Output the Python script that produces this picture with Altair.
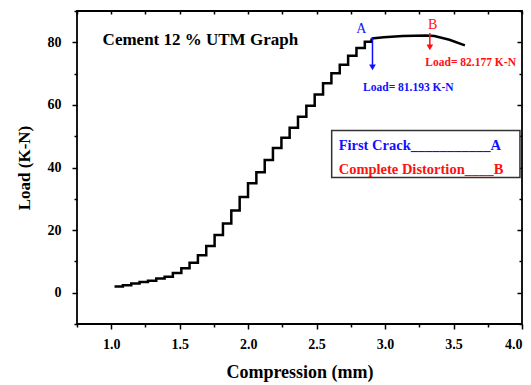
import altair as alt
import pandas as pd

# ---- data ----
step_x = [1.024, 1.085, 1.146, 1.207, 1.268, 1.329, 1.390, 1.450, 1.512, 1.572,
          1.633, 1.694, 1.755, 1.816, 1.877, 1.938, 1.999, 2.060, 2.121, 2.181,
          2.243, 2.303, 2.364, 2.425, 2.486, 2.547, 2.608, 2.669, 2.730, 2.791,
          2.852, 2.901]
step_y = [2.0, 2.4, 2.9, 3.4, 3.8, 4.5, 5.1, 6.3, 7.8, 9.6,
          12.0, 14.9, 18.4, 22.1, 26.3, 30.6, 35.0, 38.5, 42.4, 46.2,
          49.5, 52.7, 56.2, 59.7, 63.3, 66.9, 70.1, 72.8, 75.7, 78.2,
          80.2, 81.2]
top_x = [2.901, 2.99, 3.13, 3.30, 3.36, 3.47, 3.583]
top_y = [81.2, 81.6, 82.0, 82.18, 82.0, 80.8, 79.0]

x_tick_values = [0.75, 1.0, 1.25, 1.5, 1.75, 2.0, 2.25, 2.5, 2.75, 3.0, 3.25, 3.5, 3.75, 4.0]
y_tick_values = [-10, 0, 10, 20, 30, 40, 50, 60, 70, 80, 90]

# annotation texts / anchors
title_text = ["Cement 12 %  UTM Graph"]
title_x = [0.937]
title_y = [80.7]

mark_letters = ["A", "B"]
mark_letter_x = [2.827, 3.347]
mark_letter_y = [84.1, 85.4]
mark_colors = ["#1010ff", "#ff1010"]

arrow_x = [2.908, 3.327]
arrow_top = [81.4, 83.0]
arrow_head = [72.0, 78.4]

load_text = ["Load= 81.193 K-N", "Load= 82.177 K-N"]
load_x = [3.170, 3.625]
load_y = [65.4, 73.4]

box_x = [2.610]
box_x2 = [3.985]
box_y = [51.8]
box_y2 = [36.8]

legend_text = ["First Crack___________A", "Complete Distortion____B"]
legend_x = [2.661, 2.661]
legend_y = [47.0, 39.1]

FONT = "Liberation Serif"
W, H = 445, 313

xs = alt.Scale(domain=[0.75, 4.0], nice=False, zero=False)
ys = alt.Scale(domain=[-10, 90], nice=False, zero=False)

stairs = pd.DataFrame({"x": step_x, "y": step_y})
top = pd.DataFrame({"x": top_x, "y": top_y})

x_axis = alt.Axis(
    values=x_tick_values,
    labelExpr="datum.value % 0.5 == 0 ? format(datum.value, '.1f') : ''",
    tickSize={"condition": {"test": "datum.value % 0.5 == 0", "value": 5}, "value": 3},
    tickColor="black", tickWidth=1.5, domain=False, grid=False,
    labelFont=FONT, labelFontWeight="bold", labelFontSize=14, labelColor="black",
    labelPadding=8, title="Compression (mm)", titleFont=FONT, titleFontSize=18,
    titleFontWeight="bold", titleColor="black", titlePadding=12,
)
y_axis = alt.Axis(
    values=y_tick_values,
    labelExpr="datum.value % 20 == 0 ? format(datum.value, 'd') : ''",
    tickSize={"condition": {"test": "datum.value % 20 == 0", "value": 5}, "value": 3},
    tickColor="black", tickWidth=1.5, domain=False, grid=False,
    labelFont=FONT, labelFontWeight="bold", labelFontSize=14, labelColor="black",
    labelPadding=11, title="Load (K-N)", titleFont=FONT, titleFontSize=17,
    titleFontWeight="bold", titleColor="black", titlePadding=14,
)

stair_layer = alt.Chart(stairs).mark_line(
    interpolate="step-after", color="black", strokeWidth=2.5
).encode(
    x=alt.X("x:Q", scale=xs, axis=x_axis),
    y=alt.Y("y:Q", scale=ys, axis=y_axis),
)

# mirrored inward ticks on top and right
mirror_x = alt.Axis(values=x_tick_values, orient="bottom", offset=-H, labels=False,
                    title=None, domain=False, grid=False, tickSize=3,
                    tickColor="black", tickWidth=1.5)
mirror_y = alt.Axis(values=y_tick_values, orient="left", offset=-W, labels=False,
                    title=None, domain=False, grid=False,
                    tickSize={"condition": {"test": "datum.value % 20 == 0", "value": 5}, "value": 3},
                    tickColor="black", tickWidth=1.5)

top_layer = alt.Chart(top).mark_line(color="black", strokeWidth=2.5).encode(
    x=alt.X("x:Q", scale=xs, axis=mirror_x),
    y=alt.Y("y:Q", scale=ys, axis=mirror_y),
)

noax = dict(axis=None)

title_layer = alt.Chart(pd.DataFrame({"t": title_text, "x": title_x, "y": title_y})).mark_text(
    font=FONT, fontSize=17, fontWeight="bold", align="left", baseline="middle", color="black"
).encode(x=alt.X("x:Q", scale=xs, **noax), y=alt.Y("y:Q", scale=ys, **noax), text="t:N")

ann = pd.DataFrame({
    "letter": mark_letters, "lx": mark_letter_x, "ly": mark_letter_y, "c": mark_colors,
    "ax": arrow_x, "at": arrow_top, "ah": arrow_head,
    "load": load_text, "tx": load_x, "ty": load_y,
})
color_enc = alt.Color("c:N", scale=None)

letters = alt.Chart(ann).mark_text(font=FONT, fontSize=14, baseline="middle").encode(
    x=alt.X("lx:Q", scale=xs, **noax), y=alt.Y("ly:Q", scale=ys, **noax),
    text="letter:N", color=color_enc)
shafts = alt.Chart(ann).mark_rule(strokeWidth=1.5).encode(
    x=alt.X("ax:Q", scale=xs, **noax), y=alt.Y("at:Q", scale=ys, **noax),
    y2="ah:Q", color=color_enc)
heads = alt.Chart(ann).mark_point(shape="triangle-down", filled=True, opacity=1, size=45).encode(
    x=alt.X("ax:Q", scale=xs, **noax), y=alt.Y("ah:Q", scale=ys, **noax), color=color_enc)
loads = alt.Chart(ann).mark_text(font=FONT, fontSize=11.5, fontWeight="bold", baseline="middle").encode(
    x=alt.X("tx:Q", scale=xs, **noax), y=alt.Y("ty:Q", scale=ys, **noax),
    text="load:N", color=color_enc)

box = alt.Chart(pd.DataFrame({"x": box_x, "x2": box_x2, "y": box_y, "y2": box_y2})).mark_rect(
    fill="white", stroke="#333333", strokeWidth=1.5
).encode(x=alt.X("x:Q", scale=xs, **noax), x2="x2:Q",
         y=alt.Y("y:Q", scale=ys, **noax), y2="y2:Q")
legend = alt.Chart(pd.DataFrame({"t": legend_text, "x": legend_x, "y": legend_y, "c": mark_colors})).mark_text(
    font=FONT, fontSize=14.5, fontWeight="bold", align="left", baseline="middle"
).encode(x=alt.X("x:Q", scale=xs, **noax), y=alt.Y("y:Q", scale=ys, **noax),
         text="t:N", color=color_enc)

chart = alt.layer(
    stair_layer, top_layer, title_layer, shafts, heads, letters, loads, box, legend
).resolve_axis(x="independent", y="independent").properties(
    width=W, height=H,
    autosize=alt.AutoSizeParams(type="none"),
    padding={"left": 77, "top": 11, "right": 9, "bottom": 61},
    background="white",
).configure_view(stroke="black", strokeWidth=1.8)

chart.save("out.html", embed_options={"renderer": "svg", "actions": False})
